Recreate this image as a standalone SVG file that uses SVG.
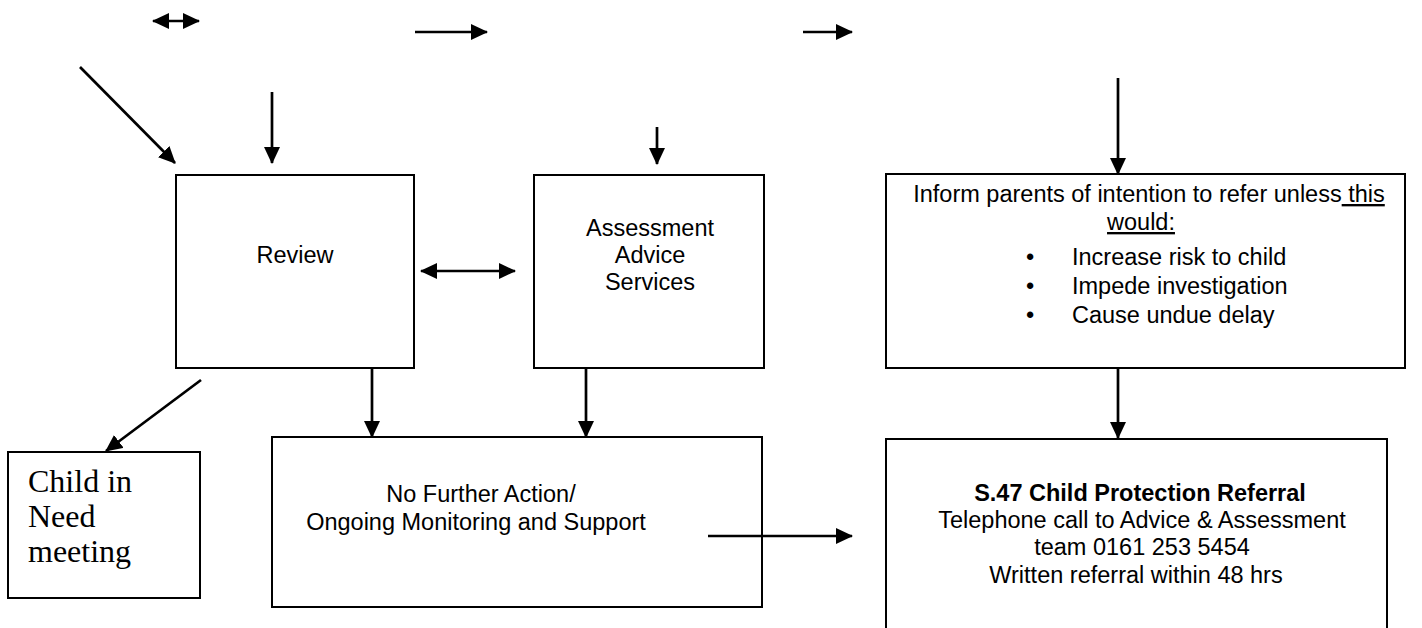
<svg xmlns="http://www.w3.org/2000/svg" width="1422" height="628" viewBox="0 0 1422 628">
<style>
.box{fill:#fff;stroke:#000;stroke-width:2}
.t{font-family:"Liberation Sans",Arial,sans-serif;font-size:23.5px;fill:#000}
.c{text-anchor:middle}
.s{font-family:"Liberation Serif","Times New Roman",serif;font-size:32px;fill:#000}
.ln{stroke:#000;stroke-width:2.7;fill:none}
</style>
<defs>
<marker id="ah" markerUnits="userSpaceOnUse" markerWidth="17" markerHeight="16" refX="16" refY="8" orient="auto-start-reverse">
<path d="M0,0 L17,8 L0,16 Z" fill="#000"/>
</marker>
</defs>
<rect width="1422" height="628" fill="#fff"/>
<g id="review">
<rect class="box" x="176" y="175" width="238" height="193"/>
<text class="t c" x="295" y="263">Review</text>
</g>
<g id="assessment">
<rect class="box" x="534" y="175" width="230" height="193"/>
<text class="t c" x="650" y="236">Assessment</text>
<text class="t c" x="650" y="263">Advice</text>
<text class="t c" x="650" y="290">Services</text>
</g>
<g id="inform">
<rect class="box" x="886" y="174" width="519" height="194"/>
<text class="t c" x="1149" y="202">Inform parents of intention to refer unless<tspan text-decoration="underline"> this</tspan></text>
<text class="t c" x="1141" y="230" text-decoration="underline">would:</text>
<text class="t" x="1026" y="265">•</text>
<text class="t" x="1072" y="265">Increase risk to child</text>
<text class="t" x="1026" y="294">•</text>
<text class="t" x="1072" y="294">Impede investigation</text>
<text class="t" x="1026" y="323">•</text>
<text class="t" x="1072" y="323">Cause undue delay</text>
</g>
<g id="child-in-need">
<rect class="box" x="8" y="452" width="192" height="146"/>
<text class="s" x="28" y="492">Child in</text>
<text class="s" x="28" y="527">Need</text>
<text class="s" x="28" y="562">meeting</text>
</g>
<g id="no-further-action">
<rect class="box" x="272" y="437" width="490" height="170"/>
<text class="t c" x="481" y="502">No Further Action/</text>
<text class="t c" x="476" y="530">Ongoing Monitoring and Support</text>
</g>
<g id="s47">
<rect class="box" x="886" y="439" width="501" height="200"/>
<text class="t c" x="1140" y="501" font-weight="bold">S.47 Child Protection Referral</text>
<text class="t c" x="1142" y="528">Telephone call to Advice &amp; Assessment</text>
<text class="t c" x="1142" y="555">team 0161 253 5454</text>
<text class="t c" x="1136" y="583">Written referral within 48 hrs</text>
</g>
<g id="connectors">
<line class="ln" x1="153" y1="21" x2="199" y2="21" marker-start="url(#ah)" marker-end="url(#ah)"/>
<line class="ln" x1="415" y1="32" x2="487" y2="32" marker-end="url(#ah)"/>
<line class="ln" x1="803" y1="32" x2="852" y2="32" marker-end="url(#ah)"/>
<line class="ln" x1="80" y1="67" x2="175" y2="163" marker-end="url(#ah)"/>
<line class="ln" x1="272" y1="92" x2="272" y2="163" marker-end="url(#ah)"/>
<line class="ln" x1="657" y1="127" x2="657" y2="164" marker-end="url(#ah)"/>
<line class="ln" x1="1118" y1="78" x2="1118" y2="174" marker-end="url(#ah)"/>
<line class="ln" x1="421" y1="271" x2="515" y2="271" marker-start="url(#ah)" marker-end="url(#ah)"/>
<line class="ln" x1="201" y1="380" x2="106" y2="451" marker-end="url(#ah)"/>
<line class="ln" x1="372" y1="368" x2="372" y2="437" marker-end="url(#ah)"/>
<line class="ln" x1="586" y1="368" x2="586" y2="437" marker-end="url(#ah)"/>
<line class="ln" x1="1118" y1="368" x2="1118" y2="438" marker-end="url(#ah)"/>
<line class="ln" x1="708" y1="536" x2="852" y2="536" marker-end="url(#ah)"/>
</g>
</svg>
